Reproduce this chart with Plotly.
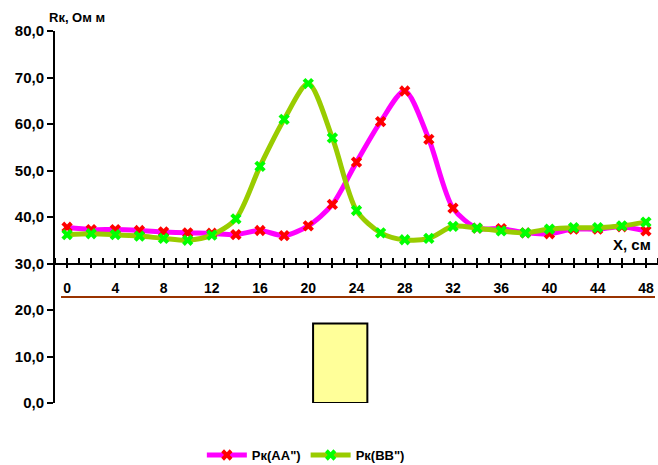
import plotly.graph_objects as go

x_cm = [0, 2, 4, 6, 8, 10, 12, 14, 16, 18, 20, 22, 24, 26, 28, 30, 32, 34, 36, 38, 40, 42, 44, 46, 48]
rk_aa = [37.8, 37.3, 37.3, 37.1, 36.8, 36.6, 36.5, 36.2, 37.1, 36.0, 38.1, 42.7, 51.8, 60.5, 67.1, 56.7, 41.9,
         37.6, 37.5, 36.6, 36.4, 37.4, 37.4, 37.9, 37.0]
rk_bb = [36.2, 36.4, 36.2, 35.9, 35.4, 35.0, 36.1, 39.6, 50.9, 61.0, 68.7, 57.0, 41.4, 36.6, 35.1, 35.4, 38.0,
         37.6, 37.0, 36.6, 37.4, 37.7, 37.7, 38.1, 38.9]
series_names = ['Рк(АА")', 'Рк(ВВ")']
y_ticks = [0, 10, 20, 30, 40, 50, 60, 70, 80]
x_tick_vals = list(range(0, 49, 2))
x_tick_text = [str(v) if v % 4 == 0 else "" for v in x_tick_vals]
block = {"x0": 20.4, "x1": 24.9, "y0": 0, "y1": 17.1}
level_y = 22.8

FONT = "Liberation Sans, Arial, sans-serif"

fig = go.Figure()
fig.add_trace(go.Scatter(
    x=x_cm, y=rk_aa, name=series_names[0], mode="lines+markers",
    line=dict(color="#FF00FF", width=5, shape="spline", smoothing=0.8),
    marker=dict(symbol="x", size=10, color="#FF0000", line=dict(width=0)),
))
fig.add_trace(go.Scatter(
    x=x_cm, y=rk_bb, name=series_names[1], mode="lines+markers",
    line=dict(color="#99CC00", width=5, shape="spline", smoothing=0.8),
    marker=dict(symbol="x", size=10, color="#00FF00", line=dict(width=0)),
))

fig.add_shape(type="line", xref="x", yref="y", x0=-0.5, x1=48.75, y0=level_y, y1=level_y,
              line=dict(color="#993300", width=2), layer="below")
fig.add_shape(type="rect", xref="x", yref="y", x0=block["x0"], x1=block["x1"], y0=block["y0"], y1=block["y1"],
              fillcolor="#FFFF99", line=dict(color="black", width=2), layer="below")

fig.update_layout(
    width=658, height=465,
    margin=dict(l=55, r=0, t=31, b=62, autoexpand=False),
    paper_bgcolor="white", plot_bgcolor="white",
    separators=", ",
    font=dict(family=FONT, size=13, color="black"),
    showlegend=True,
    legend=dict(orientation="h", x=0.416, xanchor="center", y=-0.14, yanchor="middle",
                font=dict(family=FONT, size=13, color="black", weight="bold"),
                itemwidth=40, tracegroupgap=0),
    xaxis=dict(
        range=[-1, 49], anchor="free", position=0.375, automargin=False,
        showline=True, linecolor="black", linewidth=2,
        showgrid=False, zeroline=False,
        tickmode="array", tickvals=x_tick_vals, ticktext=x_tick_text,
        ticks="outside", ticklen=3, tickwidth=2, tickcolor="black",
        ticklabelstandoff=9,
        minor=dict(ticks="inside", dtick=1, tick0=1, ticklen=5, tickwidth=2, tickcolor="black"),
        tickfont=dict(family=FONT, size=14, color="black", weight="bold"),
    ),
    yaxis=dict(
        range=[0, 80], showline=True, linecolor="black", linewidth=2, automargin=False,
        showgrid=False, zeroline=False,
        tickmode="array", tickvals=y_ticks, ticktext=[f"{v:.1f}".replace(".", ",") for v in y_ticks],
        ticks="outside", ticklen=6, tickwidth=2, tickcolor="black",
        tickfont=dict(family=FONT, size=15, color="black", weight="bold"),
    ),
)

fig.add_annotation(text="Rк, Ом м", xref="paper", yref="paper", x=-0.013, y=1.035,
                   xanchor="left", yanchor="middle", showarrow=False,
                   font=dict(family=FONT, size=13, color="black", weight="bold"))
fig.add_annotation(text="X, см", xref="paper", yref="paper", x=0.992, y=0.427,
                   xanchor="right", yanchor="middle", showarrow=False,
                   font=dict(family=FONT, size=15, color="black", weight="bold"))

fig.write_html("out.html", config={"displayModeBar": False},
               post_script="document.body.style.margin='0px';document.body.style.overflow='hidden';")
